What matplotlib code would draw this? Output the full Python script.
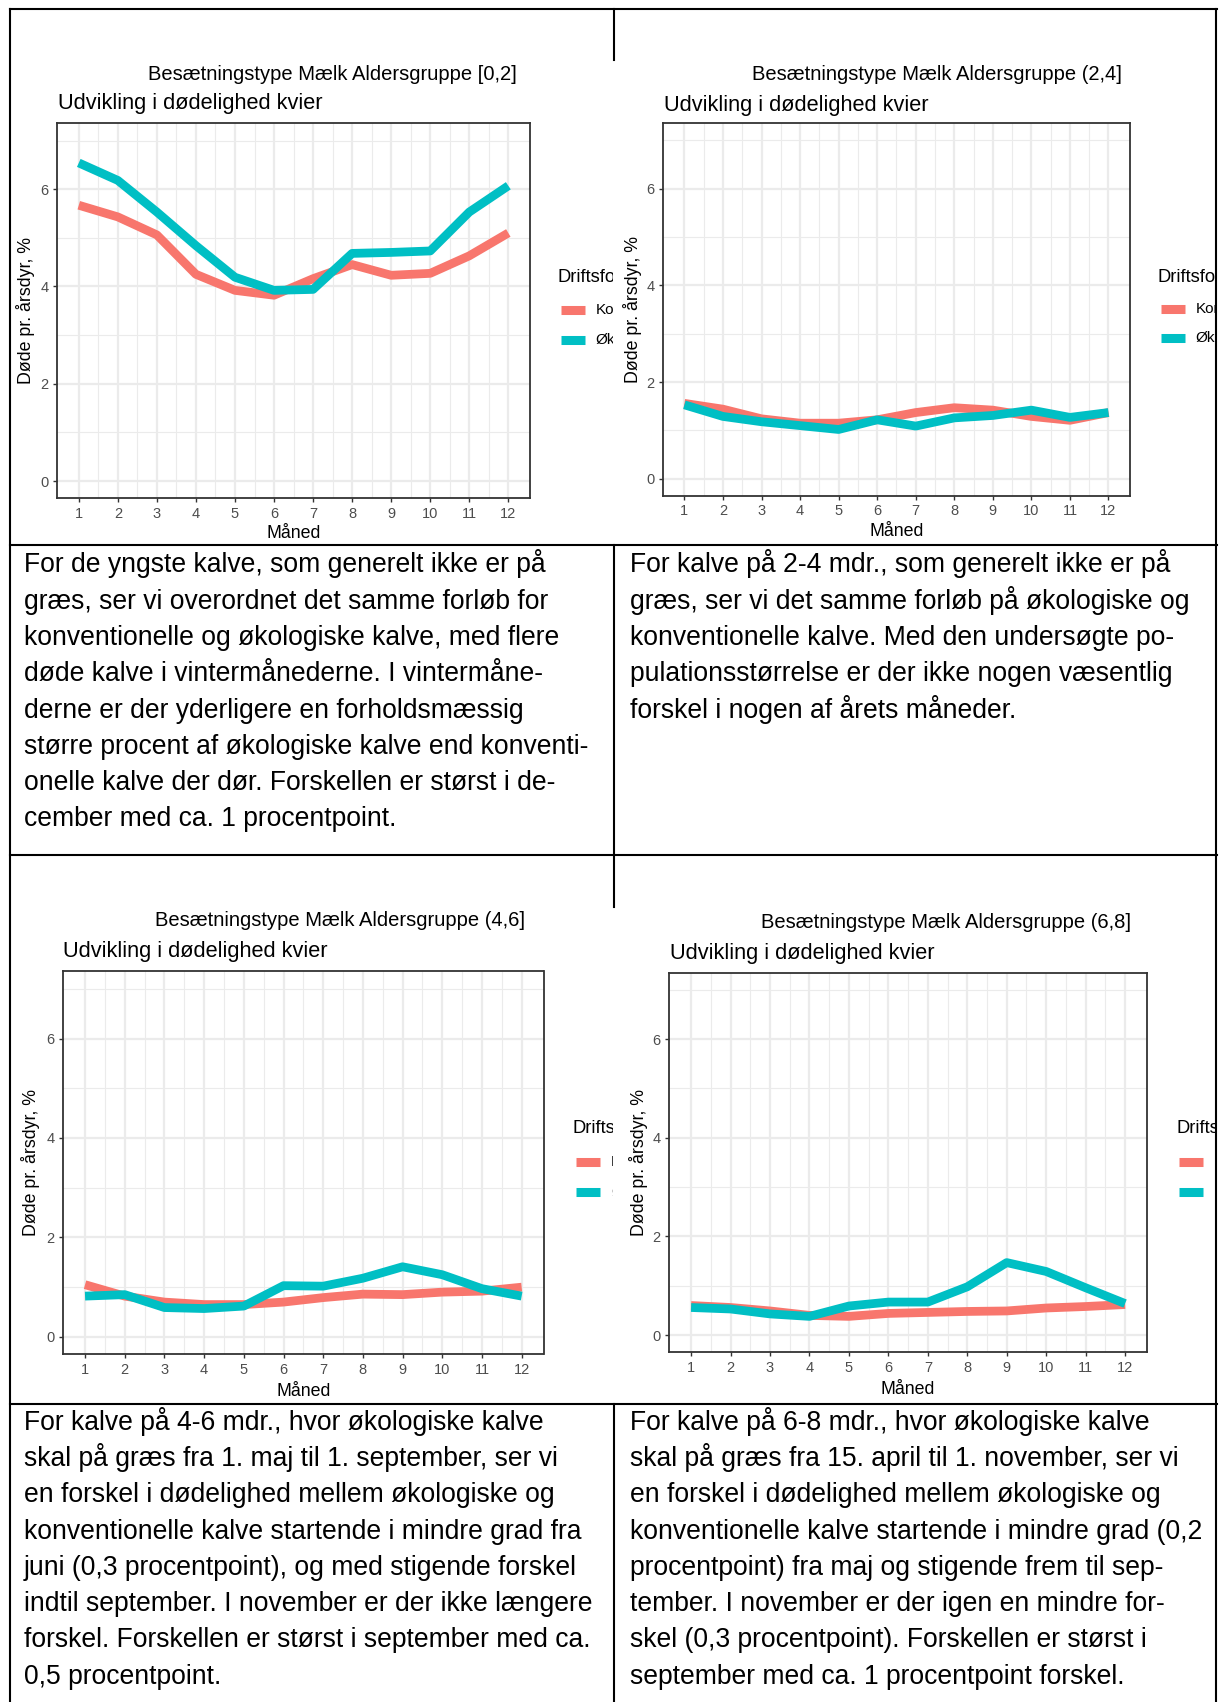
import matplotlib
matplotlib.use("Agg")
import matplotlib.pyplot as plt
from matplotlib.lines import Line2D

plt.rcParams['font.family'] = ['Liberation Sans', 'DejaVu Sans']

W, H = 1219, 1702

# data
months = list(range(1, 13))
age_groups = ["[0,2]", "(2,4]", "(4,6]", "(6,8]"]
kon_02 = [5.67, 5.43, 5.06, 4.25, 3.92, 3.82, 4.16, 4.45, 4.23, 4.27, 4.63, 5.10]
oko_02 = [6.54, 6.18, 5.53, 4.84, 4.19, 3.92, 3.94, 4.68, 4.70, 4.73, 5.53, 6.07]
kon_24 = [1.56, 1.44, 1.24, 1.15, 1.15, 1.22, 1.37, 1.47, 1.42, 1.29, 1.21, 1.37]
oko_24 = [1.53, 1.29, 1.18, 1.10, 1.02, 1.22, 1.09, 1.26, 1.31, 1.42, 1.27, 1.37]
kon_46 = [1.05, 0.82, 0.70, 0.65, 0.65, 0.70, 0.79, 0.86, 0.85, 0.90, 0.92, 1.00]
oko_46 = [0.82, 0.85, 0.59, 0.57, 0.62, 1.03, 1.02, 1.18, 1.41, 1.25, 0.97, 0.82]
kon_68 = [0.60, 0.56, 0.49, 0.40, 0.38, 0.44, 0.46, 0.48, 0.49, 0.55, 0.58, 0.62]
oko_68 = [0.56, 0.53, 0.43, 0.38, 0.59, 0.67, 0.67, 0.98, 1.47, 1.29, 0.96, 0.64]
kon_all = [kon_02, kon_24, kon_46, kon_68]
oko_all = [oko_02, oko_24, oko_46, oko_68]
series_names = ["Konventionel", "Økologisk"]
legend_title = "Driftsform"
plot_title = "Udvikling i dødelighed kvier"
y_label = "Døde pr. årsdyr, %"
x_label = "Måned"

text_left_1 = [
    "For de yngste kalve, som generelt ikke er på",
    "græs, ser vi overordnet det samme forløb for",
    "konventionelle og økologiske kalve, med flere",
    "døde kalve i vintermånederne. I vintermåne-",
    "derne er der yderligere en forholdsmæssig",
    "større procent af økologiske kalve end konventi-",
    "onelle kalve der dør. Forskellen er størst i de-",
    "cember med ca. 1 procentpoint.",
]
text_right_1 = [
    "For kalve på 2-4 mdr., som generelt ikke er på",
    "græs, ser vi det samme forløb på økologiske og",
    "konventionelle kalve. Med den undersøgte po-",
    "pulationsstørrelse er der ikke nogen væsentlig",
    "forskel i nogen af årets måneder.",
]
text_left_2 = [
    "For kalve på 4-6 mdr., hvor økologiske kalve",
    "skal på græs fra 1. maj til 1. september, ser vi",
    "en forskel i dødelighed mellem økologiske og",
    "konventionelle kalve startende i mindre grad fra",
    "juni (0,3 procentpoint), og med stigende forskel",
    "indtil september. I november er der ikke længere",
    "forskel. Forskellen er størst i september med ca.",
    "0,5 procentpoint.",
]
text_right_2 = [
    "For kalve på 6-8 mdr., hvor økologiske kalve",
    "skal på græs fra 15. april til 1. november, ser vi",
    "en forskel i dødelighed mellem økologiske og",
    "konventionelle kalve startende i mindre grad (0,2",
    "procentpoint) fra maj og stigende frem til sep-",
    "tember. I november er der igen en mindre for-",
    "skel (0,3 procentpoint). Forskellen er størst i",
    "september med ca. 1 procentpoint forskel.",
]

RED = "#F8766D"
TEAL = "#00BFC4"


def fx(x):
    return x / W


def fy(y):
    return 1 - y / H


fig = plt.figure(figsize=(W / 100, H / 100), dpi=100)

# pixel layout of each chart cell
# img box, axes box, head/sub title pos, ylabel x, xlabel y, legend (x, title y, key y1, key y2)
layout = [
    ((11, 60, 613, 545), (57.3, 123.5, 529.8, 498.1), (148, 79.5), (58.5, 109.5), 25.7, 534, (557.5, 277, 310, 339.6)),
    ((615, 60, 1215, 545), (663.2, 123.5, 1129.7, 495.7), (752.5, 80), (664.4, 110.5), 632.5, 531.6, (1157.7, 277, 308.7, 337.8)),
    ((11, 907, 613, 1403), (63.2, 971.4, 543.5, 1354.3), (155, 926), (63.2, 957), 30.8, 1391, (573, 1128.6, 1161.8, 1191.8)),
    ((615, 907, 1215, 1403), (669.4, 972.5, 1146.8, 1352.4), (760.7, 928), (670.2, 959.5), 638, 1389, (1176.3, 1128.5, 1161.7, 1191.7)),
]

for i in range(4):
    img, box, head, sub, ylx, xly, leg = layout[i]

    # background "image" area, used to clip the cut-off legend
    bg = fig.add_axes([fx(img[0]), fy(img[3]), (img[2] - img[0]) / W, (img[3] - img[1]) / H])
    bg.set_xlim(img[0], img[2])
    bg.set_ylim(img[3], img[1])
    bg.axis('off')

    l, t, r, b = box
    ax = fig.add_axes([fx(l), fy(b), (r - l) / W, (b - t) / H])
    ax.plot(months, kon_all[i], color=RED, lw=6.3, solid_capstyle='butt', solid_joinstyle='round')
    ax.plot(months, oko_all[i], color=TEAL, lw=6.3, solid_capstyle='butt', solid_joinstyle='round')
    ax.set_xlim(0.45, 12.55)
    ax.set_ylim(-0.35, 7.35)
    ax.set_xticks(months)
    ax.set_xticks([m + 0.5 for m in months[:-1]], minor=True)
    ax.set_yticks([0, 2, 4, 6])
    ax.set_yticks([1, 3, 5, 7], minor=True)
    ax.grid(which='major', color='#EBEBEB', lw=1.6)
    ax.grid(which='minor', color='#EBEBEB', lw=0.8)
    ax.set_axisbelow(True)
    ax.tick_params(which='major', length=3.2, width=1.0, color='#333333',
                   labelcolor='#4D4D4D', labelsize=10.5, pad=3)
    ax.tick_params(which='minor', length=0)
    for s in ax.spines.values():
        s.set_color('#333333')
        s.set_linewidth(1.3)

    fig.text(fx(head[0]), fy(head[1]), "Besætningstype Mælk Aldersgruppe " + age_groups[i],
             fontsize=14.5, ha='left', va='baseline')
    fig.text(fx(sub[0]), fy(sub[1]), plot_title, fontsize=15.7, ha='left', va='baseline')
    fig.text(fx(ylx), fy((t + b) / 2), y_label, fontsize=12.8, rotation=90, ha='center', va='center')
    fig.text(fx((l + r) / 2), fy(xly), x_label, fontsize=12.8, ha='center', va='center')

    lx, ty, k1, k2 = leg
    bg.text(lx, ty, legend_title, fontsize=13.2, ha='left', va='center', clip_on=True)
    for ky, col, name in [(k1, RED, series_names[0]), (k2, TEAL, series_names[1])]:
        bg.add_line(Line2D([lx + 3, lx + 27], [ky, ky], color=col, lw=6.5, solid_capstyle='butt'))
        bg.text(lx + 38, ky, name, fontsize=11, ha='left', va='center', clip_on=True)

# paragraph cells
for lines, x0, base in [(text_left_1, 24, 572.5), (text_right_1, 630, 572.5),
                        (text_left_2, 24, 1429.8), (text_right_2, 630, 1429.8)]:
    for j, line in enumerate(lines):
        fig.text(fx(x0), fy(base + 36.25 * j), line, fontsize=19.1, ha='left', va='baseline')


# table grid
def hline(y, x0, x1):
    fig.add_artist(Line2D([fx(x0), fx(x1)], [fy(y), fy(y)], color='black', lw=1.5))


def vline(x, y0, y1):
    fig.add_artist(Line2D([fx(x), fx(x)], [fy(y0), fy(y1)], color='black', lw=1.5))


hline(8.5, 9.5, 1216.5)
hline(545.5, 9.5, 1216.5)
hline(854.5, 9.5, 1216.5)
hline(1403.5, 9.5, 1216.5)
vline(10, 8.5, 1702)
vline(1216, 8.5, 1702)
vline(613.5, 8.5, 60)
vline(613.5, 545.5, 907)
vline(613.5, 1403.5, 1702)

fig.savefig("out.png", dpi=100)
